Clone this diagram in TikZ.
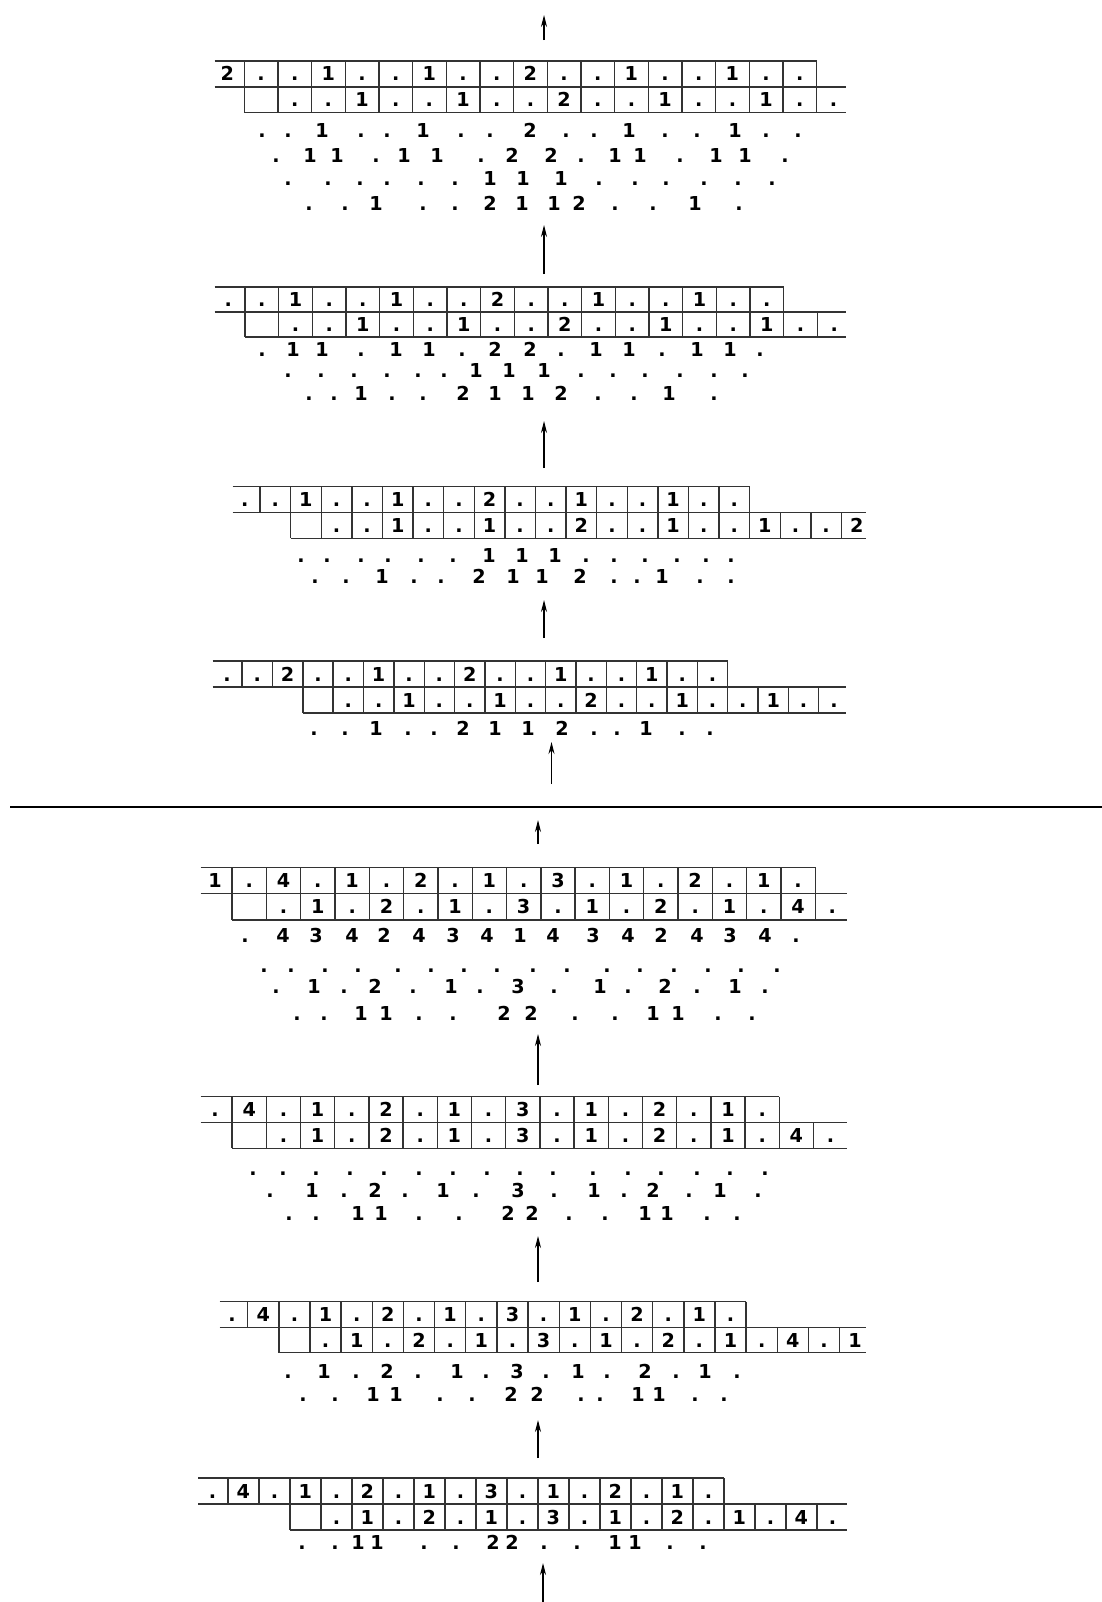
\documentclass[tikz,border=0pt]{standalone}
\usepackage{fontspec}
\setmainfont{DejaVu Sans}
\usepackage{tikz}
\usetikzlibrary{arrows.meta}

\newcommand{\digitfont}{\bfseries\fontsize{9.6}{11}\selectfont}
% #1 top y, #2 row height, #3 open left x, #4 left x of col 1, #5 cell width,
% #6 last top col, #7 first bottom rule, #8 last bottom rule, #9 right end x
\newcommand{\tapegrid}[9]{%
  \draw[tapeline] (#3,#1) -- ({#4+#6*#5},#1);
  \draw[tapeline] (#3,{#1+#2}) -- (#9,{#1+#2});
  \draw[tapeline] ({#4+#7*#5},{#1+2*#2}) -- (#9,{#1+2*#2});
  \foreach \k in {0,...,#6} \draw[tapeline] ({#4+\k*#5},#1) -- ++(0,#2);
  \foreach \k in {#7,...,#8} \draw[tapeline] ({#4+\k*#5},{#1+#2}) -- ++(0,#2);
}
% #1 name, #2 y, #3 left x of col 1, #4 cell width, #5 first col, #6 entries
\newcommand{\tapecells}[6]{%
  \foreach \t [count=\c from #5] in {#6}
    \node[digit] (#1-\c) at ({#3+(\c-0.5)*#4},#2) {\t};
}
% #1 name, #2 y, #3 x/entry pairs
\newcommand{\digitrow}[3]{%
  \foreach \x/\t [count=\i] in {#3}
    \node[digit] (#1-\i) at (\x,#2) {\t};
}

\begin{document}
\begin{tikzpicture}[x=0.5pt,y=-0.5pt,>={Stealth[length=6pt,width=3pt]}]
  \tikzstyle{digit}=[inner sep=0pt,text height=7pt,text depth=0pt,font=\digitfont]
  \tikzstyle{tapeline}=[draw=black!80,line width=0.7pt]
  \tikzstyle{up}=[->,line width=0.55pt]
  \tikzstyle{divider}=[line width=1.2pt]
\useasboundingbox (0,0) rectangle (1102,1602);

% upper half
\tapegrid{61}{25.8}{214.7}{244.2}{33.67}{17}{0}{17}{846}
\tapecells{b1t}{73.9}{244.2}{33.67}{0}{2,.,.,1,.,.,1,.,.,2,.,.,1,.,.,1,.,.}
\tapecells{b1b}{99.7}{244.2}{33.67}{2}{.,.,1,.,.,1,.,.,2,.,.,1,.,.,1,.,.}
\digitrow{b1r3}{130}{262/.,288/.,322/1,361/.,387/.,423/1,461/.,490/.,530/2,566/.,594/.,629/1,665/.,697/.,735/1,766/.,798/.}
\digitrow{b1r4}{155}{276/.,310/1,337/1,376/.,404/1,437/1,481/.,512/2,551/2,581/.,615/1,640/1,680/.,716/1,745/1,785/.}
\digitrow{b1r5}{178}{288/.,328/.,360/.,387/.,421/.,455/.,490/1,523/1,561/1,599/.,635/.,666/.,704/.,738/.,772/.}
\digitrow{b1r6}{203}{309/.,345/.,376/1,423/.,455/.,490/2,522/1,554/1,579/2,615/.,653/.,695/1,739/.}

\tapegrid{287}{25}{214.7}{245}{33.67}{16}{0}{17}{846}
\tapecells{b2t}{299.5}{245}{33.67}{0}{.,.,1,.,.,1,.,.,2,.,.,1,.,.,1,.,.}
\tapecells{b2b}{324.5}{245}{33.67}{2}{.,.,1,.,.,1,.,.,2,.,.,1,.,.,1,.,.}
\digitrow{b2r3}{349}{262/.,293/1,322/1,361/.,396/1,429/1,462/.,495/2,530/2,561/.,596/1,629/1,662/.,697/1,730/1,760/.}
\digitrow{b2r4}{370}{288/.,321/.,354/.,387/.,418/.,444/.,476/1,509/1,544/1,581/.,613/.,645/.,680/.,714/.,745/.}
\digitrow{b2r5}{393}{309/.,334/.,361/1,392/.,423/.,463/2,495/1,528/1,561/2,598/.,634/.,669/1,714/.}

\tapegrid{486.7}{25.8}{232.6}{260}{30.6}{16}{1}{19}{866}
\tapecells{b3t}{499.6}{260}{30.6}{0}{.,.,1,.,.,1,.,.,2,.,.,1,.,.,1,.,.}
\tapecells{b3b}{525.4}{260}{30.6}{3}{.,.,1,.,.,1,.,.,2,.,.,1,.,.,1,.,.,2}
\digitrow{b3r3}{555}{301/.,327/.,361/.,388/.,421/.,453/.,489/1,522/1,555/1,586/.,614/.,645/.,677/.,706/.,731/.}
\digitrow{b3r4}{576.7}{315/.,346/.,382/1,414/.,441/.,479/2,513/1,542/1,580/2,614/.,637/.,662/1,700/.,731/.}

\tapegrid{661}{26}{212.6}{242.1}{30.35}{16}{2}{19}{846}
\tapecells{b4t}{674}{242.1}{30.35}{0}{.,.,2,.,.,1,.,.,2,.,.,1,.,.,1,.,.}
\tapecells{b4b}{700}{242.1}{30.35}{4}{.,.,1,.,.,1,.,.,2,.,.,1,.,.,1,.,.}
\digitrow{b4r3}{728.3}{314/.,345/.,376/1,408/.,434/.,463/2,495/1,528/1,562/2,594/.,617/.,646/1,682/.,710/.}

% lower half
\tapegrid{867.3}{26.3}{200.5}{232.1}{34.3}{17}{0}{17}{846.6}
\tapecells{b5t}{880.5}{232.1}{34.3}{0}{1,.,4,.,1,.,2,.,1,.,3,.,1,.,2,.,1,.}
\tapecells{b5b}{906.8}{232.1}{34.3}{2}{.,1,.,2,.,1,.,3,.,1,.,2,.,1,.,4,.}
\digitrow{b5r3}{935}{245/.,283/4,316/3,352/4,384/2,419/4,453/3,487/4,520/1,553/4,593/3,628/4,661/2,697/4,730/3,765/4,796/.}
\digitrow{b5r4}{965}{264/.,291/.,325/.,358/.,398/.,431/.,464/.,497/.,533/.,567/.,607/.,640/.,674/.,708/.,741/.,777/.}
\digitrow{b5r5}{986}{276/.,314/1,344/.,375/2,413/.,451/1,480/.,518/3,554/.,600/1,628/.,665/2,697/.,735/1,765/.}
\digitrow{b5r6}{1013}{297/.,324/.,361/1,386/1,419/.,453/.,504/2,531/2,575/.,615/.,653/1,678/1,718/.,752/.}

\tapegrid{1096.7}{25.8}{200.5}{232.1}{34.2}{16}{0}{17}{846.6}
\tapecells{b6t}{1109.6}{232.1}{34.2}{0}{.,4,.,1,.,2,.,1,.,3,.,1,.,2,.,1,.}
\tapecells{b6b}{1135.4}{232.1}{34.2}{2}{.,1,.,2,.,1,.,3,.,1,.,2,.,1,.,4,.}
\digitrow{b6r3}{1168}{253/.,283/.,316/.,350/.,384/.,419/.,453/.,487/.,520/.,553/.,593/.,628/.,661/.,697/.,730/.,765/.}
\digitrow{b6r4}{1190}{270/.,312/1,344/.,375/2,405/.,443/1,476/.,518/3,554/.,594/1,624/.,653/2,689/.,720/1,758/.}
\digitrow{b6r5}{1213}{289/.,316/.,358/1,381/1,419/.,459/.,508/2,532/2,569/.,605/.,645/1,667/1,707/.,737/.}

\tapegrid{1301.7}{25.5}{219.5}{247.7}{31.15}{16}{1}{19}{865.7}
\tapecells{b7t}{1314.5}{247.7}{31.15}{0}{.,4,.,1,.,2,.,1,.,3,.,1,.,2,.,1,.}
\tapecells{b7b}{1340}{247.7}{31.15}{3}{.,1,.,2,.,1,.,3,.,1,.,2,.,1,.,4,.,1}
\digitrow{b7r3}{1371}{288/.,324/1,356/.,387/2,418/.,457/1,486/.,517/3,546/.,578/1,607/.,645/2,676/.,705/1,737/.}
\digitrow{b7r4}{1394}{303/.,335/.,373/1,396/1,440/.,472/.,511/2,537/2,581/.,600/.,638/1,659/1,695/.,724/.}

\tapegrid{1478}{26}{198.4}{227.9}{31.0}{16}{2}{19}{846.6}
\tapecells{b8t}{1491}{227.9}{31.0}{0}{.,4,.,1,.,2,.,1,.,3,.,1,.,2,.,1,.}
\tapecells{b8b}{1517}{227.9}{31.0}{4}{.,1,.,2,.,1,.,3,.,1,.,2,.,1,.,4,.}
\digitrow{b8r3}{1542}{302/.,335/.,358/1,377/1,424/.,456/.,493/2,512/2,544/.,577/.,615/1,635/1,670/.,703/.}

% arrows and divider
\coordinate (a0s) at (544,40);    \coordinate (a0e) at (544,15);
\coordinate (a1s) at (544,274);   \coordinate (a1e) at (544,225);
\coordinate (a2s) at (544,468);   \coordinate (a2e) at (544,421);
\coordinate (a3s) at (544,638);   \coordinate (a3e) at (544,600);
\coordinate (a4s) at (551.5,784); \coordinate (a4e) at (551.5,742);
\coordinate (a5s) at (538,844);   \coordinate (a5e) at (538,820);
\coordinate (a6s) at (538,1085);  \coordinate (a6e) at (538,1034);
\coordinate (a7s) at (538,1282);  \coordinate (a7e) at (538,1236);
\coordinate (a8s) at (538,1458);  \coordinate (a8e) at (538,1420);
\coordinate (a9s) at (543,1602);  \coordinate (a9e) at (543,1563);
\foreach \n in {0,...,9} \draw[up] (a\n s) -- (a\n e);
\coordinate (divl) at (10,807); \coordinate (divr) at (1102,807);
\draw[divider] (divl) -- (divr);
\end{tikzpicture}
\end{document}
